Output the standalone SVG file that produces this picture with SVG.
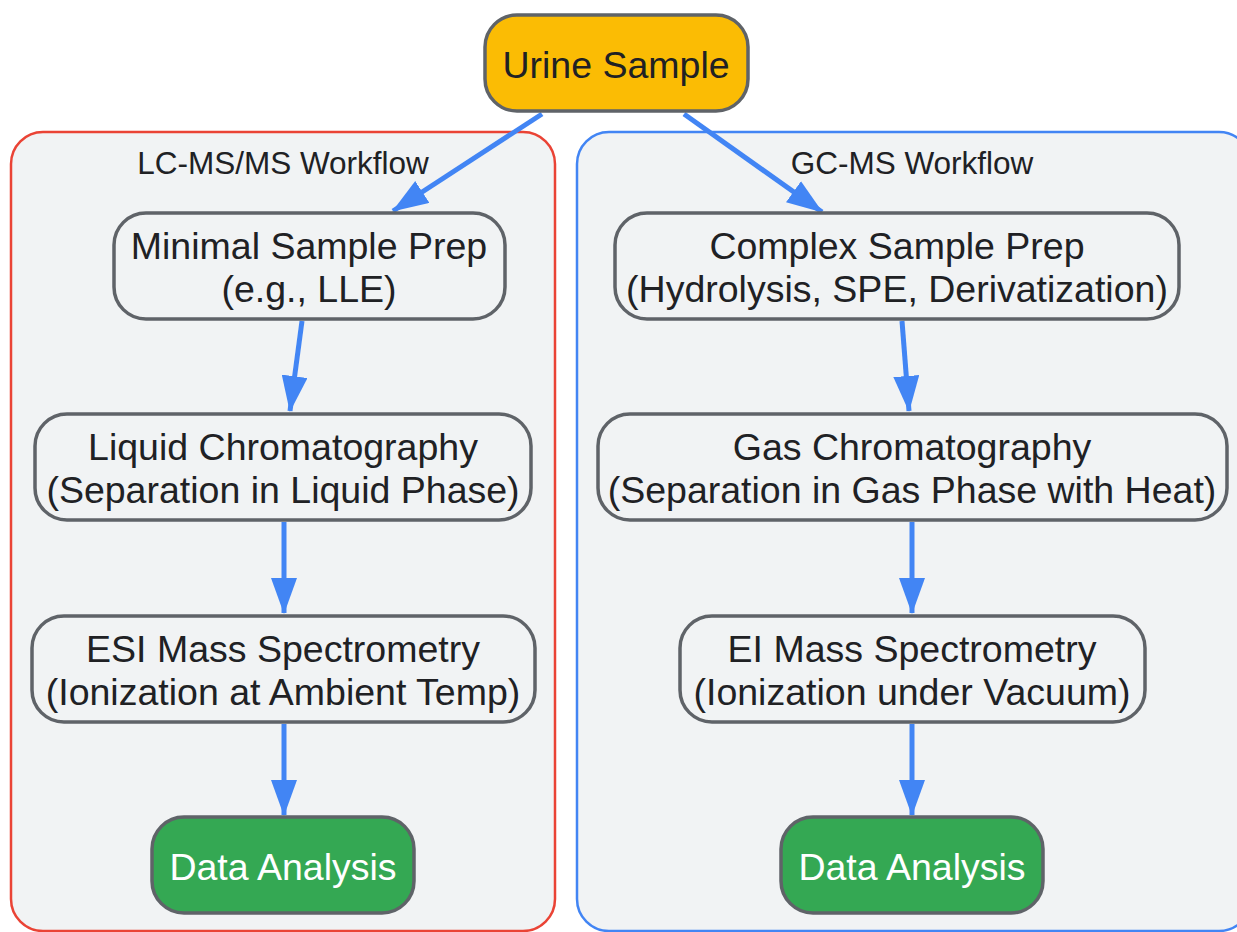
<svg xmlns="http://www.w3.org/2000/svg" width="1237" height="932" viewBox="0 0 1237 932">
<defs>
<marker id="arrow" viewBox="0 0 36 26" refX="35" refY="13" markerWidth="36" markerHeight="26" orient="auto" markerUnits="userSpaceOnUse">
<path d="M0,0 L36,13 L0,26 Z" fill="#4285F4"/>
</marker>
<style>
.cl{fill:#F1F3F4;stroke-width:2.5}
.nd{fill:#F1F3F4;stroke:#5F6368;stroke-width:3.5}
.t{font-family:"Liberation Sans",Arial,sans-serif;font-size:37.5px;fill:#202124;text-anchor:middle}
.lb{font-family:"Liberation Sans",Arial,sans-serif;font-size:31.5px;fill:#202124;text-anchor:middle}
.w{fill:#FFFFFF}
.e{stroke:#4285F4;stroke-width:5;fill:none;marker-end:url(#arrow)}
</style>
</defs>
<rect width="1237" height="932" fill="#FFFFFF"/>
<g id="cluster-lc">
<rect class="cl" x="11" y="132" width="544" height="799" rx="32" stroke="#EA4335"/>
<text class="lb" x="283" y="174">LC-MS/MS Workflow</text>
</g>
<g id="cluster-gc">
<rect class="cl" x="577" y="132" width="674" height="799" rx="32" stroke="#4285F4"/>
<text class="lb" x="912" y="174">GC-MS Workflow</text>
</g>
<g id="connectors">
<line class="e" x1="542" y1="114" x2="393" y2="211"/>
<line class="e" x1="684" y1="114" x2="822" y2="212"/>
<line class="e" x1="302" y1="321" x2="290" y2="411"/>
<line class="e" x1="902" y1="321" x2="909" y2="411"/>
<line class="e" x1="284" y1="522" x2="284" y2="613"/>
<line class="e" x1="284" y1="724" x2="284" y2="815"/>
<line class="e" x1="912" y1="522" x2="912" y2="613"/>
<line class="e" x1="912" y1="724" x2="912" y2="815"/>
</g>
<g id="urine">
<rect x="485" y="15" width="263" height="96" rx="32" fill="#FBBC04" stroke="#5F6368" stroke-width="3.5"/>
<text class="t" x="616" y="78">Urine Sample</text>
</g>
<g id="minimal">
<rect class="nd" x="114" y="213" width="391" height="106" rx="32"/>
<text class="t" x="309" y="259">Minimal Sample Prep</text>
<text class="t" x="309" y="302">(e.g., LLE)</text>
</g>
<g id="lc">
<rect class="nd" x="35" y="414" width="496" height="106" rx="32"/>
<text class="t" x="283" y="460">Liquid Chromatography</text>
<text class="t" x="283" y="503">(Separation in Liquid Phase)</text>
</g>
<g id="esi">
<rect class="nd" x="32" y="616" width="503" height="106" rx="32"/>
<text class="t" x="283" y="662">ESI Mass Spectrometry</text>
<text class="t" x="283" y="705">(Ionization at Ambient Temp)</text>
</g>
<g id="data-lc">
<rect x="152" y="817" width="262" height="96" rx="32" fill="#34A853" stroke="#5F6368" stroke-width="3.5"/>
<text class="t w" x="283" y="880">Data Analysis</text>
</g>
<g id="complex">
<rect class="nd" x="615" y="213" width="564" height="106" rx="32"/>
<text class="t" x="897" y="259">Complex Sample Prep</text>
<text class="t" x="897" y="302">(Hydrolysis, SPE, Derivatization)</text>
</g>
<g id="gc">
<rect class="nd" x="598" y="414" width="629" height="106" rx="32"/>
<text class="t" x="912" y="460">Gas Chromatography</text>
<text class="t" x="912" y="503">(Separation in Gas Phase with Heat)</text>
</g>
<g id="ei">
<rect class="nd" x="680" y="616" width="465" height="106" rx="32"/>
<text class="t" x="912" y="662">EI Mass Spectrometry</text>
<text class="t" x="912" y="705">(Ionization under Vacuum)</text>
</g>
<g id="data-gc">
<rect x="781" y="817" width="262" height="96" rx="32" fill="#34A853" stroke="#5F6368" stroke-width="3.5"/>
<text class="t w" x="912" y="880">Data Analysis</text>
</g>
</svg>
